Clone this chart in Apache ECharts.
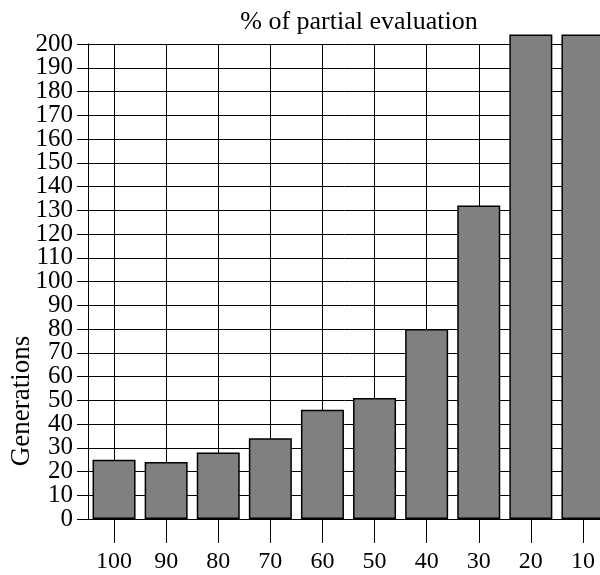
<!DOCTYPE html>
<html>
<head>
<meta charset="utf-8">
<script src="https://cdn.jsdelivr.net/npm/echarts@6/dist/echarts.min.js"></script>
<style>
  html, body { margin: 0; padding: 0; background: #fff; }
  #chart { width: 600px; height: 575px; }
</style>
</head>
<body>
<div id="chart"></div>
<script>
// Percentage of partial evaluation (categories, left to right)
const categories = ['100', '90', '80', '70', '60', '50', '40', '30', '20', '10'];
// Generations needed for each setting
const generations = [25, 24, 28, 34, 46, 51, 80, 132, 204, 204];
// Value-axis range and step
const yMin = 0;
const yMax = 200;
const yStep = 10;

const serif = '"Liberation Serif", "DejaVu Serif", serif';
const labelFont = { fontFamily: serif, fontSize: 25, color: '#000' };

// The tick labels are set tightly; they are split over two stacked axes
// (even and odd steps) so neighbouring labels never get dropped as overlapping.
const isEvenStep = v => Math.round(v / yStep) % 2 === 0;

const chart = echarts.init(document.getElementById('chart'));
chart.setOption({
  animation: false,
  backgroundColor: '#fff',
  title: {
    text: '% of partial evaluation',
    left: 354,
    top: 4,
    textAlign: 'center',
    textStyle: { fontFamily: serif, fontSize: 26, fontWeight: 'normal', color: '#000' }
  },
  graphic: [{
    type: 'text',
    x: 22,
    y: 401,
    rotation: Math.PI / 2,
    style: {
      text: 'Generations',
      font: '27px ' + serif,
      fill: '#000',
      align: 'center',
      verticalAlign: 'middle'
    }
  }],
  // plot area runs past the right edge of the canvas
  grid: { left: 88, width: 521, top: 44, bottom: 56, containLabel: false, outerBoundsMode: 'none' },
  xAxis: {
    type: 'category',
    data: categories,
    boundaryGap: true,
    axisLine: { show: true, lineStyle: { color: '#000', width: 1 } },
    axisTick: { show: true, alignWithLabel: true, length: 24, lineStyle: { color: '#000', width: 1 } },
    axisLabel: { margin: 31, fontFamily: serif, fontSize: 24, color: '#000', interval: 0, showMinLabel: true, showMaxLabel: true },
    splitLine: { show: true, alignWithLabel: true, lineStyle: { color: '#000', width: 1 } }
  },
  yAxis: [{
    type: 'value',
    position: 'left',
    min: yMin,
    max: yMax,
    interval: yStep,
    axisLine: { show: true, lineStyle: { color: '#000', width: 1 } },
    axisTick: { show: true, length: 11, lineStyle: { color: '#000', width: 1 } },
    axisLabel: Object.assign({
      margin: 15,
      showMinLabel: true,
      showMaxLabel: true,
      formatter: v => (isEvenStep(v) ? String(v) : '')
    }, labelFont),
    splitLine: { show: true, lineStyle: { color: '#000', width: 1 } }
  }, {
    type: 'value',
    position: 'left',
    offset: 0,
    min: yMin,
    max: yMax,
    interval: yStep,
    axisLine: { show: false },
    axisTick: { show: false },
    axisLabel: Object.assign({
      margin: 15,
      showMinLabel: false,
      showMaxLabel: false,
      formatter: v => (isEvenStep(v) ? '' : String(v))
    }, labelFont),
    splitLine: { show: false }
  }],
  series: [{
    type: 'bar',
    yAxisIndex: 0,
    data: generations,
    barWidth: 43,
    clip: false,
    itemStyle: { color: '#808080', borderColor: '#000', borderWidth: 1.5 }
  }]
});
</script>
</body>
</html>
